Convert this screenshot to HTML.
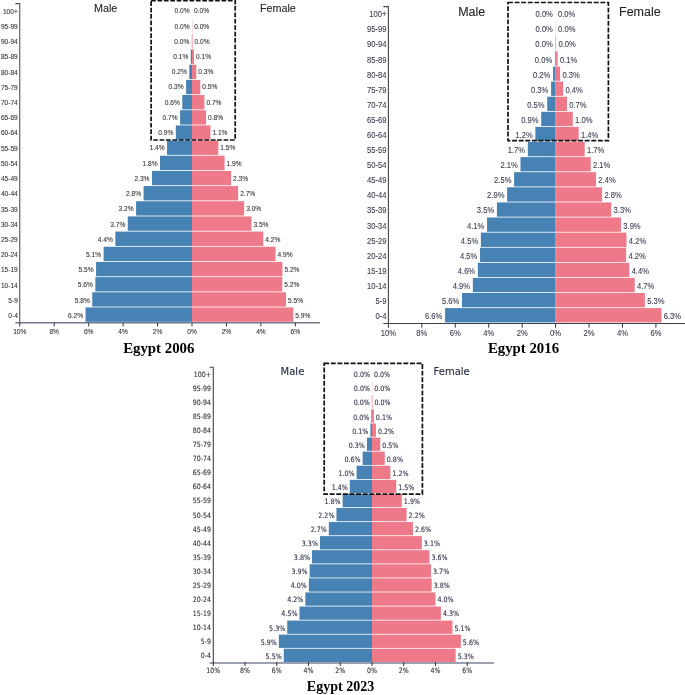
<!DOCTYPE html><html><head><meta charset="utf-8"><title>Egypt population pyramids</title>
<style>html,body{margin:0;padding:0;background:#fff}svg{display:block}.tx text{stroke:var(--tc);stroke-width:var(--tw);stroke-opacity:.7}.tx text.a{stroke:var(--ac)}</style></head><body>
<svg width="685" height="695" viewBox="0 0 685 695">
<rect width="685" height="695" fill="#fff"/>
<g font-family="'Liberation Sans', Arial, sans-serif" class="tx" style="--tc:#333;--ac:#333;--tw:0.12px">
<path d="M15.35 322.80H320.00" fill="none" stroke="#747890" stroke-width="1.6"/>
<text x="189.50" y="13.36" font-size="6.6" text-anchor="end" fill="#333">0.0%</text>
<text x="194.00" y="13.36" font-size="6.6" text-anchor="start" fill="#333">0.0%</text>
<text x="17.80" y="13.66" font-size="6.6" text-anchor="end" fill="#333" class="a">100+</text>
<rect x="192.00" y="19.17" width="0.21" height="14.37" fill="#ee7989"/>
<text x="189.50" y="28.59" font-size="6.6" text-anchor="end" fill="#333">0.0%</text>
<text x="194.21" y="28.59" font-size="6.6" text-anchor="start" fill="#333">0.0%</text>
<text x="17.80" y="28.89" font-size="6.6" text-anchor="end" fill="#333" class="a">95-99</text>
<rect x="191.83" y="34.34" width="0.17" height="14.37" fill="#4682b4"/>
<rect x="192.00" y="34.34" width="0.52" height="14.37" fill="#ee7989"/>
<text x="189.33" y="43.81" font-size="6.6" text-anchor="end" fill="#333">0.0%</text>
<text x="194.52" y="43.81" font-size="6.6" text-anchor="start" fill="#333">0.0%</text>
<text x="17.80" y="44.11" font-size="6.6" text-anchor="end" fill="#333" class="a">90-94</text>
<rect x="190.79" y="49.51" width="1.21" height="14.37" fill="#4682b4"/>
<rect x="192.00" y="49.51" width="2.00" height="14.37" fill="#ee7989"/>
<text x="188.29" y="59.04" font-size="6.6" text-anchor="end" fill="#333">0.1%</text>
<text x="196.00" y="59.04" font-size="6.6" text-anchor="start" fill="#333">0.1%</text>
<text x="17.80" y="59.34" font-size="6.6" text-anchor="end" fill="#333" class="a">85-89</text>
<rect x="189.33" y="64.69" width="2.67" height="14.37" fill="#4682b4"/>
<rect x="192.00" y="64.69" width="4.31" height="14.37" fill="#ee7989"/>
<text x="186.83" y="74.26" font-size="6.6" text-anchor="end" fill="#333">0.2%</text>
<text x="198.31" y="74.26" font-size="6.6" text-anchor="start" fill="#333">0.3%</text>
<text x="17.80" y="74.56" font-size="6.6" text-anchor="end" fill="#333" class="a">80-84</text>
<rect x="186.14" y="79.86" width="5.86" height="14.37" fill="#4682b4"/>
<rect x="192.00" y="79.86" width="8.27" height="14.37" fill="#ee7989"/>
<text x="183.64" y="89.49" font-size="6.6" text-anchor="end" fill="#333">0.3%</text>
<text x="202.27" y="89.49" font-size="6.6" text-anchor="start" fill="#333">0.5%</text>
<text x="17.80" y="89.79" font-size="6.6" text-anchor="end" fill="#333" class="a">75-79</text>
<rect x="182.30" y="95.03" width="9.70" height="14.37" fill="#4682b4"/>
<rect x="192.00" y="95.03" width="12.40" height="14.37" fill="#ee7989"/>
<text x="179.80" y="104.71" font-size="6.6" text-anchor="end" fill="#333">0.6%</text>
<text x="206.40" y="104.71" font-size="6.6" text-anchor="start" fill="#333">0.7%</text>
<text x="17.80" y="105.01" font-size="6.6" text-anchor="end" fill="#333" class="a">70-74</text>
<rect x="180.11" y="110.20" width="11.89" height="14.37" fill="#4682b4"/>
<rect x="192.00" y="110.20" width="14.12" height="14.37" fill="#ee7989"/>
<text x="177.61" y="119.94" font-size="6.6" text-anchor="end" fill="#333">0.7%</text>
<text x="208.12" y="119.94" font-size="6.6" text-anchor="start" fill="#333">0.8%</text>
<text x="17.80" y="120.24" font-size="6.6" text-anchor="end" fill="#333" class="a">65-69</text>
<rect x="175.81" y="125.37" width="16.19" height="14.37" fill="#4682b4"/>
<rect x="192.00" y="125.37" width="18.43" height="14.37" fill="#ee7989"/>
<text x="173.31" y="135.16" font-size="6.6" text-anchor="end" fill="#333">0.9%</text>
<text x="212.43" y="135.16" font-size="6.6" text-anchor="start" fill="#333">1.1%</text>
<text x="17.80" y="135.46" font-size="6.6" text-anchor="end" fill="#333" class="a">60-64</text>
<rect x="167.06" y="140.54" width="24.94" height="14.37" fill="#4682b4"/>
<rect x="192.00" y="140.54" width="26.35" height="14.37" fill="#ee7989"/>
<text x="164.56" y="150.39" font-size="6.6" text-anchor="end" fill="#333">1.4%</text>
<text x="220.35" y="150.39" font-size="6.6" text-anchor="start" fill="#333">1.5%</text>
<text x="17.80" y="150.69" font-size="6.6" text-anchor="end" fill="#333" class="a">55-59</text>
<rect x="160.00" y="155.71" width="32.00" height="14.37" fill="#4682b4"/>
<rect x="192.00" y="155.71" width="32.56" height="14.37" fill="#ee7989"/>
<text x="157.50" y="165.61" font-size="6.6" text-anchor="end" fill="#333">1.8%</text>
<text x="226.56" y="165.61" font-size="6.6" text-anchor="start" fill="#333">1.9%</text>
<text x="17.80" y="165.91" font-size="6.6" text-anchor="end" fill="#333" class="a">50-54</text>
<rect x="151.93" y="170.89" width="40.07" height="14.37" fill="#4682b4"/>
<rect x="192.00" y="170.89" width="39.10" height="14.37" fill="#ee7989"/>
<text x="149.43" y="180.84" font-size="6.6" text-anchor="end" fill="#333">2.3%</text>
<text x="233.10" y="180.84" font-size="6.6" text-anchor="start" fill="#333">2.3%</text>
<text x="17.80" y="181.14" font-size="6.6" text-anchor="end" fill="#333" class="a">45-49</text>
<rect x="143.60" y="186.06" width="48.40" height="14.37" fill="#4682b4"/>
<rect x="192.00" y="186.06" width="46.16" height="14.37" fill="#ee7989"/>
<text x="141.10" y="196.06" font-size="6.6" text-anchor="end" fill="#333">2.8%</text>
<text x="240.16" y="196.06" font-size="6.6" text-anchor="start" fill="#333">2.7%</text>
<text x="17.80" y="196.36" font-size="6.6" text-anchor="end" fill="#333" class="a">40-44</text>
<rect x="136.10" y="201.23" width="55.90" height="14.37" fill="#4682b4"/>
<rect x="192.00" y="201.23" width="52.19" height="14.37" fill="#ee7989"/>
<text x="133.60" y="211.29" font-size="6.6" text-anchor="end" fill="#333">3.2%</text>
<text x="246.19" y="211.29" font-size="6.6" text-anchor="start" fill="#333">3.0%</text>
<text x="17.80" y="211.59" font-size="6.6" text-anchor="end" fill="#333" class="a">35-39</text>
<rect x="127.75" y="216.40" width="64.25" height="14.37" fill="#4682b4"/>
<rect x="192.00" y="216.40" width="59.43" height="14.37" fill="#ee7989"/>
<text x="125.25" y="226.51" font-size="6.6" text-anchor="end" fill="#333">3.7%</text>
<text x="253.43" y="226.51" font-size="6.6" text-anchor="start" fill="#333">3.5%</text>
<text x="17.80" y="226.81" font-size="6.6" text-anchor="end" fill="#333" class="a">30-34</text>
<rect x="115.35" y="231.57" width="76.65" height="14.37" fill="#4682b4"/>
<rect x="192.00" y="231.57" width="71.31" height="14.37" fill="#ee7989"/>
<text x="112.85" y="241.74" font-size="6.6" text-anchor="end" fill="#333">4.4%</text>
<text x="265.31" y="241.74" font-size="6.6" text-anchor="start" fill="#333">4.2%</text>
<text x="17.80" y="242.04" font-size="6.6" text-anchor="end" fill="#333" class="a">25-29</text>
<rect x="103.64" y="246.74" width="88.36" height="14.37" fill="#4682b4"/>
<rect x="192.00" y="246.74" width="83.54" height="14.37" fill="#ee7989"/>
<text x="101.14" y="256.96" font-size="6.6" text-anchor="end" fill="#333">5.1%</text>
<text x="277.54" y="256.96" font-size="6.6" text-anchor="start" fill="#333">4.9%</text>
<text x="17.80" y="257.26" font-size="6.6" text-anchor="end" fill="#333" class="a">20-24</text>
<rect x="96.06" y="261.91" width="95.94" height="14.37" fill="#4682b4"/>
<rect x="192.00" y="261.91" width="90.43" height="14.37" fill="#ee7989"/>
<text x="93.56" y="272.19" font-size="6.6" text-anchor="end" fill="#333">5.5%</text>
<text x="284.43" y="272.19" font-size="6.6" text-anchor="start" fill="#333">5.2%</text>
<text x="17.80" y="272.49" font-size="6.6" text-anchor="end" fill="#333" class="a">15-19</text>
<rect x="95.37" y="277.09" width="96.63" height="14.37" fill="#4682b4"/>
<rect x="192.00" y="277.09" width="90.26" height="14.37" fill="#ee7989"/>
<text x="92.87" y="287.41" font-size="6.6" text-anchor="end" fill="#333">5.6%</text>
<text x="284.26" y="287.41" font-size="6.6" text-anchor="start" fill="#333">5.2%</text>
<text x="17.80" y="287.71" font-size="6.6" text-anchor="end" fill="#333" class="a">10-14</text>
<rect x="92.27" y="292.26" width="99.73" height="14.37" fill="#4682b4"/>
<rect x="192.00" y="292.26" width="94.05" height="14.37" fill="#ee7989"/>
<text x="89.77" y="302.64" font-size="6.6" text-anchor="end" fill="#333">5.8%</text>
<text x="288.05" y="302.64" font-size="6.6" text-anchor="start" fill="#333">5.5%</text>
<text x="17.80" y="302.94" font-size="6.6" text-anchor="end" fill="#333" class="a">5-9</text>
<rect x="85.55" y="307.43" width="106.45" height="14.37" fill="#4682b4"/>
<rect x="192.00" y="307.43" width="101.28" height="14.37" fill="#ee7989"/>
<text x="83.05" y="317.86" font-size="6.6" text-anchor="end" fill="#333">6.2%</text>
<text x="295.28" y="317.86" font-size="6.6" text-anchor="start" fill="#333">5.9%</text>
<text x="17.80" y="318.16" font-size="6.6" text-anchor="end" fill="#333" class="a">0-4</text>
<path d="M15.35 3.60H19.75V322.80" fill="none" stroke="#555" stroke-width="1.1"/>
<path d="M19.75 322.80V326.40" stroke="#333" stroke-width="1"/>
<text x="19.75" y="333.56" font-size="6.6" text-anchor="middle" fill="#333" class="a">10%</text>
<path d="M54.20 322.80V326.40" stroke="#333" stroke-width="1"/>
<text x="54.20" y="333.56" font-size="6.6" text-anchor="middle" fill="#333" class="a">8%</text>
<path d="M88.65 322.80V326.40" stroke="#333" stroke-width="1"/>
<text x="88.65" y="333.56" font-size="6.6" text-anchor="middle" fill="#333" class="a">6%</text>
<path d="M123.10 322.80V326.40" stroke="#333" stroke-width="1"/>
<text x="123.10" y="333.56" font-size="6.6" text-anchor="middle" fill="#333" class="a">4%</text>
<path d="M157.55 322.80V326.40" stroke="#333" stroke-width="1"/>
<text x="157.55" y="333.56" font-size="6.6" text-anchor="middle" fill="#333" class="a">2%</text>
<path d="M192.00 322.80V326.40" stroke="#333" stroke-width="1"/>
<text x="192.00" y="333.56" font-size="6.6" text-anchor="middle" fill="#333" class="a">0%</text>
<path d="M226.45 322.80V326.40" stroke="#333" stroke-width="1"/>
<text x="226.45" y="333.56" font-size="6.6" text-anchor="middle" fill="#333" class="a">2%</text>
<path d="M260.90 322.80V326.40" stroke="#333" stroke-width="1"/>
<text x="260.90" y="333.56" font-size="6.6" text-anchor="middle" fill="#333" class="a">4%</text>
<path d="M295.35 322.80V326.40" stroke="#333" stroke-width="1"/>
<text x="295.35" y="333.56" font-size="6.6" text-anchor="middle" fill="#333" class="a">6%</text>
<text x="94.0" y="11.7" font-size="10.75" fill="#222">Male</text>
<text x="260" y="11.7" font-size="10.75" fill="#222">Female</text>
<rect x="151.1" y="0.6" width="84.10" height="139.40" fill="none" stroke="#111" stroke-width="1.7" stroke-dasharray="4.7 1.7"/>
</g>
<text x="158.8" y="353" font-family="'Liberation Serif', 'Times New Roman', serif" font-weight="bold" font-size="14.85" text-anchor="middle" fill="#000">Egypt 2006</text>
<g font-family="'Liberation Sans', Arial, sans-serif" class="tx" style="--tc:#383b4e;--ac:#383b4e;--tw:0.12px">
<path d="M383.40 323.50H685.00" fill="none" stroke="#3c3e50" stroke-width="1.0"/>
<text transform="translate(552.90 17.24) scale(0.93 1)" font-size="8.2" text-anchor="end" fill="#383b4e">0.0%</text>
<text transform="translate(557.90 17.24) scale(0.93 1)" font-size="8.2" text-anchor="start" fill="#383b4e">0.0%</text>
<text transform="translate(386.40 17.24) scale(0.93 1)" font-size="8.2" text-anchor="end" fill="#383b4e" class="a">100+</text>
<rect x="555.60" y="21.20" width="0.20" height="14.30" fill="#ee7989"/>
<text transform="translate(552.90 32.33) scale(0.93 1)" font-size="8.2" text-anchor="end" fill="#383b4e">0.0%</text>
<text transform="translate(558.10 32.33) scale(0.93 1)" font-size="8.2" text-anchor="start" fill="#383b4e">0.0%</text>
<text transform="translate(386.40 32.33) scale(0.93 1)" font-size="8.2" text-anchor="end" fill="#383b4e" class="a">95-99</text>
<rect x="555.43" y="36.30" width="0.17" height="14.30" fill="#4682b4"/>
<rect x="555.60" y="36.30" width="0.50" height="14.30" fill="#ee7989"/>
<text transform="translate(552.73 47.42) scale(0.93 1)" font-size="8.2" text-anchor="end" fill="#383b4e">0.0%</text>
<text transform="translate(558.40 47.42) scale(0.93 1)" font-size="8.2" text-anchor="start" fill="#383b4e">0.0%</text>
<text transform="translate(386.40 47.42) scale(0.93 1)" font-size="8.2" text-anchor="end" fill="#383b4e" class="a">90-94</text>
<rect x="554.93" y="51.40" width="0.67" height="14.30" fill="#4682b4"/>
<rect x="555.60" y="51.40" width="2.01" height="14.30" fill="#ee7989"/>
<text transform="translate(552.23 62.51) scale(0.93 1)" font-size="8.2" text-anchor="end" fill="#383b4e">0.0%</text>
<text transform="translate(559.91 62.51) scale(0.93 1)" font-size="8.2" text-anchor="start" fill="#383b4e">0.1%</text>
<text transform="translate(386.40 62.51) scale(0.93 1)" font-size="8.2" text-anchor="end" fill="#383b4e" class="a">85-89</text>
<rect x="553.09" y="66.50" width="2.51" height="14.30" fill="#4682b4"/>
<rect x="555.60" y="66.50" width="4.51" height="14.30" fill="#ee7989"/>
<text transform="translate(550.39 77.60) scale(0.93 1)" font-size="8.2" text-anchor="end" fill="#383b4e">0.2%</text>
<text transform="translate(562.41 77.60) scale(0.93 1)" font-size="8.2" text-anchor="start" fill="#383b4e">0.3%</text>
<text transform="translate(386.40 77.60) scale(0.93 1)" font-size="8.2" text-anchor="end" fill="#383b4e" class="a">80-84</text>
<rect x="551.09" y="81.60" width="4.51" height="14.30" fill="#4682b4"/>
<rect x="555.60" y="81.60" width="7.52" height="14.30" fill="#ee7989"/>
<text transform="translate(548.39 92.69) scale(0.93 1)" font-size="8.2" text-anchor="end" fill="#383b4e">0.3%</text>
<text transform="translate(565.42 92.69) scale(0.93 1)" font-size="8.2" text-anchor="start" fill="#383b4e">0.4%</text>
<text transform="translate(386.40 92.69) scale(0.93 1)" font-size="8.2" text-anchor="end" fill="#383b4e" class="a">75-79</text>
<rect x="547.24" y="96.70" width="8.36" height="14.30" fill="#4682b4"/>
<rect x="555.60" y="96.70" width="11.37" height="14.30" fill="#ee7989"/>
<text transform="translate(544.54 107.78) scale(0.93 1)" font-size="8.2" text-anchor="end" fill="#383b4e">0.5%</text>
<text transform="translate(569.27 107.78) scale(0.93 1)" font-size="8.2" text-anchor="start" fill="#383b4e">0.7%</text>
<text transform="translate(386.40 107.78) scale(0.93 1)" font-size="8.2" text-anchor="end" fill="#383b4e" class="a">70-74</text>
<rect x="541.22" y="111.80" width="14.38" height="14.30" fill="#4682b4"/>
<rect x="555.60" y="111.80" width="17.22" height="14.30" fill="#ee7989"/>
<text transform="translate(538.52 122.87) scale(0.93 1)" font-size="8.2" text-anchor="end" fill="#383b4e">0.9%</text>
<text transform="translate(575.12 122.87) scale(0.93 1)" font-size="8.2" text-anchor="start" fill="#383b4e">1.0%</text>
<text transform="translate(386.40 122.87) scale(0.93 1)" font-size="8.2" text-anchor="end" fill="#383b4e" class="a">65-69</text>
<rect x="535.37" y="126.90" width="20.23" height="14.30" fill="#4682b4"/>
<rect x="555.60" y="126.90" width="23.07" height="14.30" fill="#ee7989"/>
<text transform="translate(532.67 137.96) scale(0.93 1)" font-size="8.2" text-anchor="end" fill="#383b4e">1.2%</text>
<text transform="translate(580.97 137.96) scale(0.93 1)" font-size="8.2" text-anchor="start" fill="#383b4e">1.4%</text>
<text transform="translate(386.40 137.96) scale(0.93 1)" font-size="8.2" text-anchor="end" fill="#383b4e" class="a">60-64</text>
<rect x="527.84" y="142.00" width="27.76" height="14.30" fill="#4682b4"/>
<rect x="555.60" y="142.00" width="29.09" height="14.30" fill="#ee7989"/>
<text transform="translate(525.14 153.05) scale(0.93 1)" font-size="8.2" text-anchor="end" fill="#383b4e">1.7%</text>
<text transform="translate(586.99 153.05) scale(0.93 1)" font-size="8.2" text-anchor="start" fill="#383b4e">1.7%</text>
<text transform="translate(386.40 153.05) scale(0.93 1)" font-size="8.2" text-anchor="end" fill="#383b4e" class="a">55-59</text>
<rect x="520.49" y="157.10" width="35.11" height="14.30" fill="#4682b4"/>
<rect x="555.60" y="157.10" width="35.11" height="14.30" fill="#ee7989"/>
<text transform="translate(517.79 168.14) scale(0.93 1)" font-size="8.2" text-anchor="end" fill="#383b4e">2.1%</text>
<text transform="translate(593.01 168.14) scale(0.93 1)" font-size="8.2" text-anchor="start" fill="#383b4e">2.1%</text>
<text transform="translate(386.40 168.14) scale(0.93 1)" font-size="8.2" text-anchor="end" fill="#383b4e" class="a">50-54</text>
<rect x="514.13" y="172.20" width="41.47" height="14.30" fill="#4682b4"/>
<rect x="555.60" y="172.20" width="40.46" height="14.30" fill="#ee7989"/>
<text transform="translate(511.43 183.23) scale(0.93 1)" font-size="8.2" text-anchor="end" fill="#383b4e">2.5%</text>
<text transform="translate(598.36 183.23) scale(0.93 1)" font-size="8.2" text-anchor="start" fill="#383b4e">2.4%</text>
<text transform="translate(386.40 183.23) scale(0.93 1)" font-size="8.2" text-anchor="end" fill="#383b4e" class="a">45-49</text>
<rect x="507.11" y="187.30" width="48.49" height="14.30" fill="#4682b4"/>
<rect x="555.60" y="187.30" width="46.48" height="14.30" fill="#ee7989"/>
<text transform="translate(504.41 198.32) scale(0.93 1)" font-size="8.2" text-anchor="end" fill="#383b4e">2.9%</text>
<text transform="translate(604.38 198.32) scale(0.93 1)" font-size="8.2" text-anchor="start" fill="#383b4e">2.8%</text>
<text transform="translate(386.40 198.32) scale(0.93 1)" font-size="8.2" text-anchor="end" fill="#383b4e" class="a">40-44</text>
<rect x="496.91" y="202.40" width="58.69" height="14.30" fill="#4682b4"/>
<rect x="555.60" y="202.40" width="55.68" height="14.30" fill="#ee7989"/>
<text transform="translate(494.21 213.41) scale(0.93 1)" font-size="8.2" text-anchor="end" fill="#383b4e">3.5%</text>
<text transform="translate(613.58 213.41) scale(0.93 1)" font-size="8.2" text-anchor="start" fill="#383b4e">3.3%</text>
<text transform="translate(386.40 213.41) scale(0.93 1)" font-size="8.2" text-anchor="end" fill="#383b4e" class="a">35-39</text>
<rect x="487.05" y="217.50" width="68.55" height="14.30" fill="#4682b4"/>
<rect x="555.60" y="217.50" width="65.38" height="14.30" fill="#ee7989"/>
<text transform="translate(484.35 228.50) scale(0.93 1)" font-size="8.2" text-anchor="end" fill="#383b4e">4.1%</text>
<text transform="translate(623.28 228.50) scale(0.93 1)" font-size="8.2" text-anchor="start" fill="#383b4e">3.9%</text>
<text transform="translate(386.40 228.50) scale(0.93 1)" font-size="8.2" text-anchor="end" fill="#383b4e" class="a">30-34</text>
<rect x="480.86" y="232.60" width="74.74" height="14.30" fill="#4682b4"/>
<rect x="555.60" y="232.60" width="70.89" height="14.30" fill="#ee7989"/>
<text transform="translate(478.16 243.59) scale(0.93 1)" font-size="8.2" text-anchor="end" fill="#383b4e">4.5%</text>
<text transform="translate(628.79 243.59) scale(0.93 1)" font-size="8.2" text-anchor="start" fill="#383b4e">4.2%</text>
<text transform="translate(386.40 243.59) scale(0.93 1)" font-size="8.2" text-anchor="end" fill="#383b4e" class="a">25-29</text>
<rect x="480.03" y="247.70" width="75.57" height="14.30" fill="#4682b4"/>
<rect x="555.60" y="247.70" width="70.56" height="14.30" fill="#ee7989"/>
<text transform="translate(477.33 258.68) scale(0.93 1)" font-size="8.2" text-anchor="end" fill="#383b4e">4.5%</text>
<text transform="translate(628.46 258.68) scale(0.93 1)" font-size="8.2" text-anchor="start" fill="#383b4e">4.2%</text>
<text transform="translate(386.40 258.68) scale(0.93 1)" font-size="8.2" text-anchor="end" fill="#383b4e" class="a">20-24</text>
<rect x="477.85" y="262.80" width="77.75" height="14.30" fill="#4682b4"/>
<rect x="555.60" y="262.80" width="73.74" height="14.30" fill="#ee7989"/>
<text transform="translate(475.15 273.77) scale(0.93 1)" font-size="8.2" text-anchor="end" fill="#383b4e">4.6%</text>
<text transform="translate(631.64 273.77) scale(0.93 1)" font-size="8.2" text-anchor="start" fill="#383b4e">4.4%</text>
<text transform="translate(386.40 273.77) scale(0.93 1)" font-size="8.2" text-anchor="end" fill="#383b4e" class="a">15-19</text>
<rect x="472.84" y="277.90" width="82.76" height="14.30" fill="#4682b4"/>
<rect x="555.60" y="277.90" width="79.09" height="14.30" fill="#ee7989"/>
<text transform="translate(470.14 288.86) scale(0.93 1)" font-size="8.2" text-anchor="end" fill="#383b4e">4.9%</text>
<text transform="translate(636.99 288.86) scale(0.93 1)" font-size="8.2" text-anchor="start" fill="#383b4e">4.7%</text>
<text transform="translate(386.40 288.86) scale(0.93 1)" font-size="8.2" text-anchor="end" fill="#383b4e" class="a">10-14</text>
<rect x="461.97" y="293.00" width="93.63" height="14.30" fill="#4682b4"/>
<rect x="555.60" y="293.00" width="89.28" height="14.30" fill="#ee7989"/>
<text transform="translate(459.27 303.95) scale(0.93 1)" font-size="8.2" text-anchor="end" fill="#383b4e">5.6%</text>
<text transform="translate(647.18 303.95) scale(0.93 1)" font-size="8.2" text-anchor="start" fill="#383b4e">5.3%</text>
<text transform="translate(386.40 303.95) scale(0.93 1)" font-size="8.2" text-anchor="end" fill="#383b4e" class="a">5-9</text>
<rect x="445.08" y="308.10" width="110.52" height="14.30" fill="#4682b4"/>
<rect x="555.60" y="308.10" width="105.84" height="14.30" fill="#ee7989"/>
<text transform="translate(442.38 319.04) scale(0.93 1)" font-size="8.2" text-anchor="end" fill="#383b4e">6.6%</text>
<text transform="translate(663.74 319.04) scale(0.93 1)" font-size="8.2" text-anchor="start" fill="#383b4e">6.3%</text>
<text transform="translate(386.40 319.04) scale(0.93 1)" font-size="8.2" text-anchor="end" fill="#383b4e" class="a">0-4</text>
<path d="M383.40 6.60H388.40V323.50" fill="none" stroke="#444" stroke-width="1.1"/>
<path d="M388.40 323.50V327.70" stroke="#333" stroke-width="1"/>
<text transform="translate(388.40 335.84) scale(0.93 1)" font-size="8.2" text-anchor="middle" fill="#383b4e" class="a">10%</text>
<path d="M421.84 323.50V327.70" stroke="#333" stroke-width="1"/>
<text transform="translate(421.84 335.84) scale(0.93 1)" font-size="8.2" text-anchor="middle" fill="#383b4e" class="a">8%</text>
<path d="M455.28 323.50V327.70" stroke="#333" stroke-width="1"/>
<text transform="translate(455.28 335.84) scale(0.93 1)" font-size="8.2" text-anchor="middle" fill="#383b4e" class="a">6%</text>
<path d="M488.72 323.50V327.70" stroke="#333" stroke-width="1"/>
<text transform="translate(488.72 335.84) scale(0.93 1)" font-size="8.2" text-anchor="middle" fill="#383b4e" class="a">4%</text>
<path d="M522.16 323.50V327.70" stroke="#333" stroke-width="1"/>
<text transform="translate(522.16 335.84) scale(0.93 1)" font-size="8.2" text-anchor="middle" fill="#383b4e" class="a">2%</text>
<path d="M555.60 323.50V327.70" stroke="#333" stroke-width="1"/>
<text transform="translate(555.60 335.84) scale(0.93 1)" font-size="8.2" text-anchor="middle" fill="#383b4e" class="a">0%</text>
<path d="M589.04 323.50V327.70" stroke="#333" stroke-width="1"/>
<text transform="translate(589.04 335.84) scale(0.93 1)" font-size="8.2" text-anchor="middle" fill="#383b4e" class="a">2%</text>
<path d="M622.48 323.50V327.70" stroke="#333" stroke-width="1"/>
<text transform="translate(622.48 335.84) scale(0.93 1)" font-size="8.2" text-anchor="middle" fill="#383b4e" class="a">4%</text>
<path d="M655.92 323.50V327.70" stroke="#333" stroke-width="1"/>
<text transform="translate(655.92 335.84) scale(0.93 1)" font-size="8.2" text-anchor="middle" fill="#383b4e" class="a">6%</text>
<text x="458.2" y="15.5" font-size="12.5" fill="#222">Male</text>
<text x="619.0" y="15.5" font-size="12.5" fill="#222">Female</text>
<rect x="508.0" y="2.5" width="100.40" height="138.20" fill="none" stroke="#111" stroke-width="1.7" stroke-dasharray="4.9 1.7"/>
</g>
<text x="523.5" y="353" font-family="'Liberation Serif', 'Times New Roman', serif" font-weight="bold" font-size="14.8" text-anchor="middle" fill="#000">Egypt 2016</text>
<g font-family="'DejaVu Sans', Verdana, sans-serif" class="tx" style="--tc:#30334a;--ac:#333;--tw:0.16px">
<path d="M209.50 663.00H494.00" fill="none" stroke="#7c8096" stroke-width="1.5"/>
<text transform="translate(370.00 377.30) scale(0.86 1)" font-size="7.4" text-anchor="end" fill="#30334a">0.0%</text>
<text transform="translate(374.00 377.30) scale(0.86 1)" font-size="7.4" text-anchor="start" fill="#30334a">0.0%</text>
<text transform="translate(211.00 376.86) scale(0.86 1)" font-size="7.3" text-anchor="end" fill="#333" class="a">100+</text>
<rect x="372.00" y="381.28" width="0.19" height="13.28" fill="#ee7989"/>
<text transform="translate(370.00 391.37) scale(0.86 1)" font-size="7.4" text-anchor="end" fill="#30334a">0.0%</text>
<text transform="translate(374.19 391.37) scale(0.86 1)" font-size="7.4" text-anchor="start" fill="#30334a">0.0%</text>
<text transform="translate(211.00 390.93) scale(0.86 1)" font-size="7.3" text-anchor="end" fill="#333" class="a">95-99</text>
<rect x="371.84" y="395.35" width="0.16" height="13.28" fill="#4682b4"/>
<rect x="372.00" y="395.35" width="0.48" height="13.28" fill="#ee7989"/>
<text transform="translate(369.84 405.44) scale(0.86 1)" font-size="7.4" text-anchor="end" fill="#30334a">0.0%</text>
<text transform="translate(374.48 405.44) scale(0.86 1)" font-size="7.4" text-anchor="start" fill="#30334a">0.0%</text>
<text transform="translate(211.00 405.00) scale(0.86 1)" font-size="7.3" text-anchor="end" fill="#333" class="a">90-94</text>
<rect x="371.37" y="409.43" width="0.63" height="13.28" fill="#4682b4"/>
<rect x="372.00" y="409.43" width="1.86" height="13.28" fill="#ee7989"/>
<text transform="translate(369.37 419.51) scale(0.86 1)" font-size="7.4" text-anchor="end" fill="#30334a">0.0%</text>
<text transform="translate(375.86 419.51) scale(0.86 1)" font-size="7.4" text-anchor="start" fill="#30334a">0.1%</text>
<text transform="translate(211.00 419.07) scale(0.86 1)" font-size="7.3" text-anchor="end" fill="#333" class="a">85-89</text>
<rect x="370.41" y="423.50" width="1.59" height="13.28" fill="#4682b4"/>
<rect x="372.00" y="423.50" width="3.97" height="13.28" fill="#ee7989"/>
<text transform="translate(368.41 433.58) scale(0.86 1)" font-size="7.4" text-anchor="end" fill="#30334a">0.1%</text>
<text transform="translate(377.97 433.58) scale(0.86 1)" font-size="7.4" text-anchor="start" fill="#30334a">0.2%</text>
<text transform="translate(211.00 433.14) scale(0.86 1)" font-size="7.3" text-anchor="end" fill="#333" class="a">80-84</text>
<rect x="366.92" y="437.58" width="5.08" height="13.28" fill="#4682b4"/>
<rect x="372.00" y="437.58" width="8.25" height="13.28" fill="#ee7989"/>
<text transform="translate(364.92 447.65) scale(0.86 1)" font-size="7.4" text-anchor="end" fill="#30334a">0.3%</text>
<text transform="translate(382.25 447.65) scale(0.86 1)" font-size="7.4" text-anchor="start" fill="#30334a">0.5%</text>
<text transform="translate(211.00 447.21) scale(0.86 1)" font-size="7.3" text-anchor="end" fill="#333" class="a">75-79</text>
<rect x="362.64" y="451.66" width="9.36" height="13.28" fill="#4682b4"/>
<rect x="372.00" y="451.66" width="12.78" height="13.28" fill="#ee7989"/>
<text transform="translate(360.64 461.72) scale(0.86 1)" font-size="7.4" text-anchor="end" fill="#30334a">0.6%</text>
<text transform="translate(386.78 461.72) scale(0.86 1)" font-size="7.4" text-anchor="start" fill="#30334a">0.8%</text>
<text transform="translate(211.00 461.28) scale(0.86 1)" font-size="7.3" text-anchor="end" fill="#333" class="a">70-74</text>
<rect x="356.61" y="465.73" width="15.39" height="13.28" fill="#4682b4"/>
<rect x="372.00" y="465.73" width="18.36" height="13.28" fill="#ee7989"/>
<text transform="translate(354.61 475.79) scale(0.86 1)" font-size="7.4" text-anchor="end" fill="#30334a">1.0%</text>
<text transform="translate(392.36 475.79) scale(0.86 1)" font-size="7.4" text-anchor="start" fill="#30334a">1.2%</text>
<text transform="translate(211.00 475.35) scale(0.86 1)" font-size="7.3" text-anchor="end" fill="#333" class="a">65-69</text>
<rect x="349.78" y="479.81" width="22.22" height="13.28" fill="#4682b4"/>
<rect x="372.00" y="479.81" width="24.22" height="13.28" fill="#ee7989"/>
<text transform="translate(347.78 489.86) scale(0.86 1)" font-size="7.4" text-anchor="end" fill="#30334a">1.4%</text>
<text transform="translate(398.22 489.86) scale(0.86 1)" font-size="7.4" text-anchor="start" fill="#30334a">1.5%</text>
<text transform="translate(211.00 489.42) scale(0.86 1)" font-size="7.3" text-anchor="end" fill="#333" class="a">60-64</text>
<rect x="342.64" y="493.89" width="29.36" height="13.28" fill="#4682b4"/>
<rect x="372.00" y="493.89" width="29.84" height="13.28" fill="#ee7989"/>
<text transform="translate(340.64 503.93) scale(0.86 1)" font-size="7.4" text-anchor="end" fill="#30334a">1.8%</text>
<text transform="translate(403.84 503.93) scale(0.86 1)" font-size="7.4" text-anchor="start" fill="#30334a">1.9%</text>
<text transform="translate(211.00 503.49) scale(0.86 1)" font-size="7.3" text-anchor="end" fill="#333" class="a">55-59</text>
<rect x="336.45" y="507.96" width="35.55" height="13.28" fill="#4682b4"/>
<rect x="372.00" y="507.96" width="34.60" height="13.28" fill="#ee7989"/>
<text transform="translate(334.45 518.00) scale(0.86 1)" font-size="7.4" text-anchor="end" fill="#30334a">2.2%</text>
<text transform="translate(408.60 518.00) scale(0.86 1)" font-size="7.4" text-anchor="start" fill="#30334a">2.2%</text>
<text transform="translate(211.00 517.56) scale(0.86 1)" font-size="7.3" text-anchor="end" fill="#333" class="a">50-54</text>
<rect x="328.83" y="522.04" width="43.17" height="13.28" fill="#4682b4"/>
<rect x="372.00" y="522.04" width="40.94" height="13.28" fill="#ee7989"/>
<text transform="translate(326.83 532.07) scale(0.86 1)" font-size="7.4" text-anchor="end" fill="#30334a">2.7%</text>
<text transform="translate(414.94 532.07) scale(0.86 1)" font-size="7.4" text-anchor="start" fill="#30334a">2.6%</text>
<text transform="translate(211.00 531.63) scale(0.86 1)" font-size="7.3" text-anchor="end" fill="#333" class="a">45-49</text>
<rect x="319.95" y="536.11" width="52.05" height="13.28" fill="#4682b4"/>
<rect x="372.00" y="536.11" width="49.83" height="13.28" fill="#ee7989"/>
<text transform="translate(317.95 546.14) scale(0.86 1)" font-size="7.4" text-anchor="end" fill="#30334a">3.3%</text>
<text transform="translate(423.83 546.14) scale(0.86 1)" font-size="7.4" text-anchor="start" fill="#30334a">3.1%</text>
<text transform="translate(211.00 545.70) scale(0.86 1)" font-size="7.3" text-anchor="end" fill="#333" class="a">40-44</text>
<rect x="312.01" y="550.19" width="59.99" height="13.28" fill="#4682b4"/>
<rect x="372.00" y="550.19" width="57.45" height="13.28" fill="#ee7989"/>
<text transform="translate(310.01 560.21) scale(0.86 1)" font-size="7.4" text-anchor="end" fill="#30334a">3.8%</text>
<text transform="translate(431.45 560.21) scale(0.86 1)" font-size="7.4" text-anchor="start" fill="#30334a">3.6%</text>
<text transform="translate(211.00 559.77) scale(0.86 1)" font-size="7.3" text-anchor="end" fill="#333" class="a">35-39</text>
<rect x="309.63" y="564.27" width="62.37" height="13.28" fill="#4682b4"/>
<rect x="372.00" y="564.27" width="59.04" height="13.28" fill="#ee7989"/>
<text transform="translate(307.63 574.28) scale(0.86 1)" font-size="7.4" text-anchor="end" fill="#30334a">3.9%</text>
<text transform="translate(433.04 574.28) scale(0.86 1)" font-size="7.4" text-anchor="start" fill="#30334a">3.7%</text>
<text transform="translate(211.00 573.84) scale(0.86 1)" font-size="7.3" text-anchor="end" fill="#333" class="a">30-34</text>
<rect x="308.84" y="578.34" width="63.16" height="13.28" fill="#4682b4"/>
<rect x="372.00" y="578.34" width="59.67" height="13.28" fill="#ee7989"/>
<text transform="translate(306.84 588.35) scale(0.86 1)" font-size="7.4" text-anchor="end" fill="#30334a">4.0%</text>
<text transform="translate(433.67 588.35) scale(0.86 1)" font-size="7.4" text-anchor="start" fill="#30334a">3.8%</text>
<text transform="translate(211.00 587.91) scale(0.86 1)" font-size="7.3" text-anchor="end" fill="#333" class="a">25-29</text>
<rect x="305.35" y="592.42" width="66.65" height="13.28" fill="#4682b4"/>
<rect x="372.00" y="592.42" width="63.48" height="13.28" fill="#ee7989"/>
<text transform="translate(303.35 602.42) scale(0.86 1)" font-size="7.4" text-anchor="end" fill="#30334a">4.2%</text>
<text transform="translate(437.48 602.42) scale(0.86 1)" font-size="7.4" text-anchor="start" fill="#30334a">4.0%</text>
<text transform="translate(211.00 601.98) scale(0.86 1)" font-size="7.3" text-anchor="end" fill="#333" class="a">20-24</text>
<rect x="299.47" y="606.50" width="72.53" height="13.28" fill="#4682b4"/>
<rect x="372.00" y="606.50" width="68.88" height="13.28" fill="#ee7989"/>
<text transform="translate(297.47 616.49) scale(0.86 1)" font-size="7.4" text-anchor="end" fill="#30334a">4.5%</text>
<text transform="translate(442.88 616.49) scale(0.86 1)" font-size="7.4" text-anchor="start" fill="#30334a">4.3%</text>
<text transform="translate(211.00 616.05) scale(0.86 1)" font-size="7.3" text-anchor="end" fill="#333" class="a">15-19</text>
<rect x="287.25" y="620.57" width="84.75" height="13.28" fill="#4682b4"/>
<rect x="372.00" y="620.57" width="80.46" height="13.28" fill="#ee7989"/>
<text transform="translate(285.25 630.56) scale(0.86 1)" font-size="7.4" text-anchor="end" fill="#30334a">5.3%</text>
<text transform="translate(454.46 630.56) scale(0.86 1)" font-size="7.4" text-anchor="start" fill="#30334a">5.1%</text>
<text transform="translate(211.00 630.12) scale(0.86 1)" font-size="7.3" text-anchor="end" fill="#333" class="a">10-14</text>
<rect x="278.84" y="634.65" width="93.16" height="13.28" fill="#4682b4"/>
<rect x="372.00" y="634.65" width="88.87" height="13.28" fill="#ee7989"/>
<text transform="translate(276.84 644.63) scale(0.86 1)" font-size="7.4" text-anchor="end" fill="#30334a">5.9%</text>
<text transform="translate(462.87 644.63) scale(0.86 1)" font-size="7.4" text-anchor="start" fill="#30334a">5.6%</text>
<text transform="translate(211.00 644.19) scale(0.86 1)" font-size="7.3" text-anchor="end" fill="#333" class="a">5-9</text>
<rect x="283.76" y="648.72" width="88.24" height="13.28" fill="#4682b4"/>
<rect x="372.00" y="648.72" width="83.63" height="13.28" fill="#ee7989"/>
<text transform="translate(281.76 658.70) scale(0.86 1)" font-size="7.4" text-anchor="end" fill="#30334a">5.5%</text>
<text transform="translate(457.63 658.70) scale(0.86 1)" font-size="7.4" text-anchor="start" fill="#30334a">5.3%</text>
<text transform="translate(211.00 658.26) scale(0.86 1)" font-size="7.3" text-anchor="end" fill="#333" class="a">0-4</text>
<path d="M209.50 367.30H213.30V663.00" fill="none" stroke="#444" stroke-width="1.1"/>
<path d="M213.30 662.10V666.00" stroke="#333" stroke-width="1"/>
<text transform="translate(213.30 673.46) scale(0.86 1)" font-size="7.3" text-anchor="middle" fill="#333" class="a">10%</text>
<path d="M245.04 662.10V666.00" stroke="#333" stroke-width="1"/>
<text transform="translate(245.04 673.46) scale(0.86 1)" font-size="7.3" text-anchor="middle" fill="#333" class="a">8%</text>
<path d="M276.78 662.10V666.00" stroke="#333" stroke-width="1"/>
<text transform="translate(276.78 673.46) scale(0.86 1)" font-size="7.3" text-anchor="middle" fill="#333" class="a">6%</text>
<path d="M308.52 662.10V666.00" stroke="#333" stroke-width="1"/>
<text transform="translate(308.52 673.46) scale(0.86 1)" font-size="7.3" text-anchor="middle" fill="#333" class="a">4%</text>
<path d="M340.26 662.10V666.00" stroke="#333" stroke-width="1"/>
<text transform="translate(340.26 673.46) scale(0.86 1)" font-size="7.3" text-anchor="middle" fill="#333" class="a">2%</text>
<path d="M372.00 662.10V666.00" stroke="#333" stroke-width="1"/>
<text transform="translate(372.00 673.46) scale(0.86 1)" font-size="7.3" text-anchor="middle" fill="#333" class="a">0%</text>
<path d="M403.74 662.10V666.00" stroke="#333" stroke-width="1"/>
<text transform="translate(403.74 673.46) scale(0.86 1)" font-size="7.3" text-anchor="middle" fill="#333" class="a">2%</text>
<path d="M435.48 662.10V666.00" stroke="#333" stroke-width="1"/>
<text transform="translate(435.48 673.46) scale(0.86 1)" font-size="7.3" text-anchor="middle" fill="#333" class="a">4%</text>
<path d="M467.22 662.10V666.00" stroke="#333" stroke-width="1"/>
<text transform="translate(467.22 673.46) scale(0.86 1)" font-size="7.3" text-anchor="middle" fill="#333" class="a">6%</text>
<text x="280.6" y="374.6" font-size="10" fill="#262949">Male</text>
<text x="433.6" y="374.6" font-size="10" fill="#262949">Female</text>
<rect x="324.2" y="363.3" width="98.20" height="130.80" fill="none" stroke="#111" stroke-width="1.7" stroke-dasharray="4.9 1.7"/>
</g>
<text x="340.5" y="690.6" font-family="'Liberation Serif', 'Times New Roman', serif" font-weight="bold" font-size="14" text-anchor="middle" fill="#000">Egypt 2023</text>
</svg></body></html>
